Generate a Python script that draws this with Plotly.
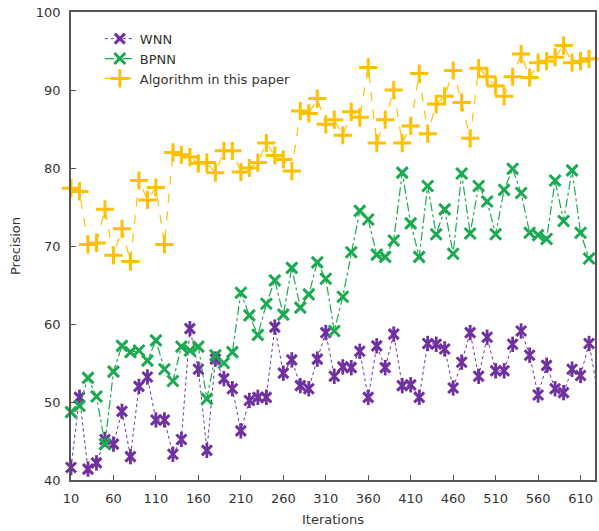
import plotly.graph_objects as go

iterations = [10, 20, 30, 40, 50, 60, 70, 80, 90, 100, 110, 120, 130, 140, 150, 160, 170, 180, 190, 200,
              210, 220, 230, 240, 250, 260, 270, 280, 290, 300, 310, 320, 330, 340, 350, 360, 370, 380, 390, 400,
              410, 420, 430, 440, 450, 460, 470, 480, 490, 500, 510, 520, 530, 540, 550, 560, 570, 580, 590, 600,
              610, 620, 630]

wnn = [41.6, 50.6, 41.4, 42.2, 45.2, 44.6, 48.8, 43.0, 52.0, 53.2, 47.7, 47.7, 43.3, 45.2, 59.4, 54.2, 43.8, 55.5, 53.0, 51.7,
       46.3, 50.2, 50.6, 50.6, 59.6, 53.7, 55.4, 52.1, 51.7, 55.5, 58.9, 53.3, 54.5, 54.4, 56.5, 50.6, 57.2, 54.4, 58.7, 52.1,
       52.2, 50.6, 57.5, 57.4, 56.8, 51.8, 55.1, 58.9, 53.3, 58.3, 54.0, 54.0, 57.4, 59.1, 56.0, 50.9, 54.7, 51.7, 51.2, 54.2,
       53.4, 57.5, 51.4]

bpnn = [48.7, 49.5, 53.1, 50.7, 44.6, 53.9, 57.2, 56.4, 56.6, 55.3, 57.9, 54.2, 52.7, 57.1, 56.6, 57.1, 50.4, 56.0, 55.0, 56.4,
        64.0, 61.1, 58.6, 62.6, 65.6, 61.2, 67.2, 62.1, 63.8, 67.9, 65.8, 59.1, 63.5, 69.2, 74.5, 73.4, 68.9, 68.6, 70.7, 79.4,
        72.9, 68.6, 77.7, 71.5, 74.7, 69.0, 79.3, 71.6, 77.7, 75.7, 71.5, 77.2, 79.9, 76.8, 71.7, 71.4, 70.9, 78.4, 73.2, 79.7,
        71.7, 68.4, 69.2]

ours = [77.4, 77.0, 70.2, 70.4, 74.7, 68.8, 72.2, 68.0, 78.4, 75.9, 77.5, 70.2, 82.0, 81.7, 81.4, 80.6, 80.7, 79.4, 82.2, 82.2,
        79.5, 80.0, 80.7, 83.2, 81.6, 81.1, 79.6, 87.3, 87.0, 88.9, 85.6, 86.2, 84.2, 87.2, 86.5, 92.9, 83.2, 86.2, 90.0, 83.2,
        85.4, 92.1, 84.4, 88.2, 89.2, 92.5, 88.4, 83.8, 92.8, 91.7, 90.5, 89.2, 91.7, 94.6, 91.6, 93.5, 93.7, 94.2, 95.7, 93.5,
        93.7, 94.0, 94.2]

x_ticks = [10, 60, 110, 160, 210, 260, 310, 360, 410, 460, 510, 560, 610]
y_ticks = [40, 50, 60, 70, 80, 90, 100]

PURPLE = "#7030A0"
GREEN = "#1BAA50"
YELLOW = "#FFC000"

fig = go.Figure()

fig.add_trace(go.Scatter(
    x=iterations, y=wnn, name="WNN", mode="lines+markers", legendgroup="wnn",
    line=dict(color=PURPLE, width=1, dash="dot"),
    marker=dict(symbol="x-thin-open", size=10, line=dict(color=PURPLE, width=3), color=PURPLE),
    cliponaxis=False,
))
fig.add_trace(go.Scatter(
    x=iterations, y=wnn, name="WNN", mode="markers", legendgroup="wnn", showlegend=False,
    marker=dict(symbol="line-ns-open", size=11, line=dict(color=PURPLE, width=2.8), color=PURPLE),
    cliponaxis=False, hoverinfo="skip",
))
fig.add_trace(go.Scatter(
    x=iterations, y=bpnn, name="BPNN", mode="lines+markers",
    line=dict(color=GREEN, width=1.2, dash="dashdot"),
    marker=dict(symbol="x-thin-open", size=11, line=dict(color=GREEN, width=3), color=GREEN),
    cliponaxis=False,
))
fig.add_trace(go.Scatter(
    x=iterations, y=ours, name="Algorithm in this paper", mode="lines+markers",
    line=dict(color=YELLOW, width=1.2, dash="dash"),
    marker=dict(symbol="cross-thin-open", size=13, line=dict(color=YELLOW, width=3), color=YELLOW),
    cliponaxis=False,
))

axis_font = dict(family="DejaVu Sans, Verdana, sans-serif", size=13, color="#333333")

fig.update_layout(
    width=599, height=531,
    margin=dict(l=71, r=2, t=12, b=51),
    paper_bgcolor="white", plot_bgcolor="white",
    font=axis_font,
    showlegend=True,
    legend=dict(x=0.055, y=0.975, xanchor="left", yanchor="top",
                bgcolor="rgba(0,0,0,0)", font=dict(size=13, color="#333333"),
                tracegroupgap=0, itemwidth=30),
    xaxis=dict(range=[10, 627], tickvals=x_ticks, ticktext=[str(v) for v in x_ticks],
               showgrid=False, zeroline=False, showline=True, mirror=True,
               linecolor="#555555", linewidth=1.5, ticks="inside", ticklen=5, tickwidth=1,
               tickcolor="#555555", ticklabelstandoff=6,
               title=dict(text="Iterations", font=dict(size=13, color="#333333"), standoff=10)),
    yaxis=dict(range=[40, 100], tickvals=y_ticks, showgrid=False, zeroline=False,
               showline=True, mirror=True, linecolor="#555555", linewidth=1.5,
               ticks="inside", ticklen=5, tickwidth=1, tickcolor="#555555", ticklabelstandoff=6,
               title=dict(text="Precision", font=dict(size=13, color="#333333"), standoff=12)),
)

fig.write_html(
    "out.html",
    config={"displayModeBar": False},
    post_script="document.body.style.margin='0';document.body.style.padding='0';document.body.style.overflow='hidden';",
)
